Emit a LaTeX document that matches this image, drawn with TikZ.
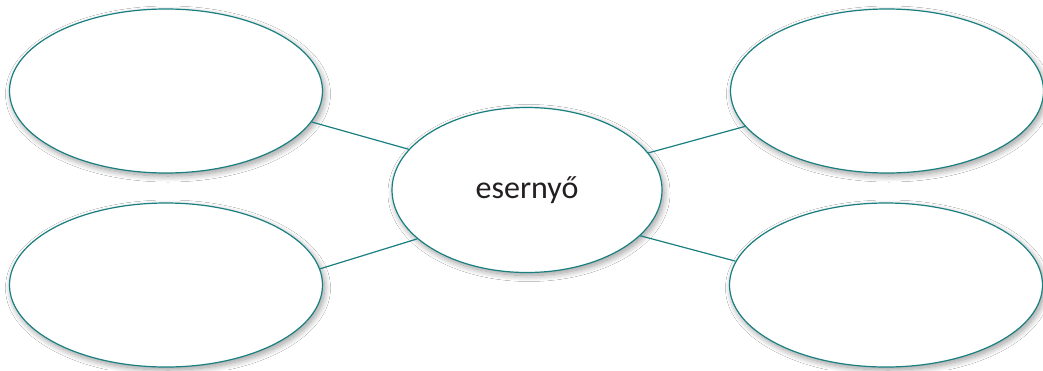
\documentclass[tikz,border=0pt]{standalone}
\usepackage{fontspec}
\setmainfont{Carlito}
\usetikzlibrary{shapes.geometric,shadows.blur}
\definecolor{tealline}{HTML}{1A7F80}
\definecolor{txt}{HTML}{231F20}
\tikzset{
  bubble/.style={ellipse, draw=tealline, line width=1.2pt, fill=white, inner sep=0pt,
    blur shadow={shadow xshift=2pt, shadow yshift=-3pt, shadow blur radius=6pt, shadow blur steps=12, shadow opacity=40}},
  small/.style={bubble, minimum width=313pt, minimum height=164pt},
  link/.style={draw=tealline, line width=1.2pt}
}
\begin{document}
\begin{tikzpicture}[x=1pt,y=-1pt]
\useasboundingbox[fill=white] (0,0) rectangle (1043,370);
\node[small] (lt) at (166,91) {};
\node[small] (lb) at (166,285) {};
\node[small] (rt) at (887,91) {};
\node[small] (rb) at (886,285) {};
\node[bubble, minimum width=270pt, minimum height=165pt, text=txt, font=\fontsize{32}{38}\selectfont] (c) at (527,190) {esernyő};
\draw[link] (lt.-12) -- (c.161.6);
\draw[link] (lb.6.7) -- (c.204.4);
\draw[link] (rt.-166.7) -- (c.17.4);
\draw[link] (rb.171.7) -- (c.-22);
\end{tikzpicture}
\end{document}
